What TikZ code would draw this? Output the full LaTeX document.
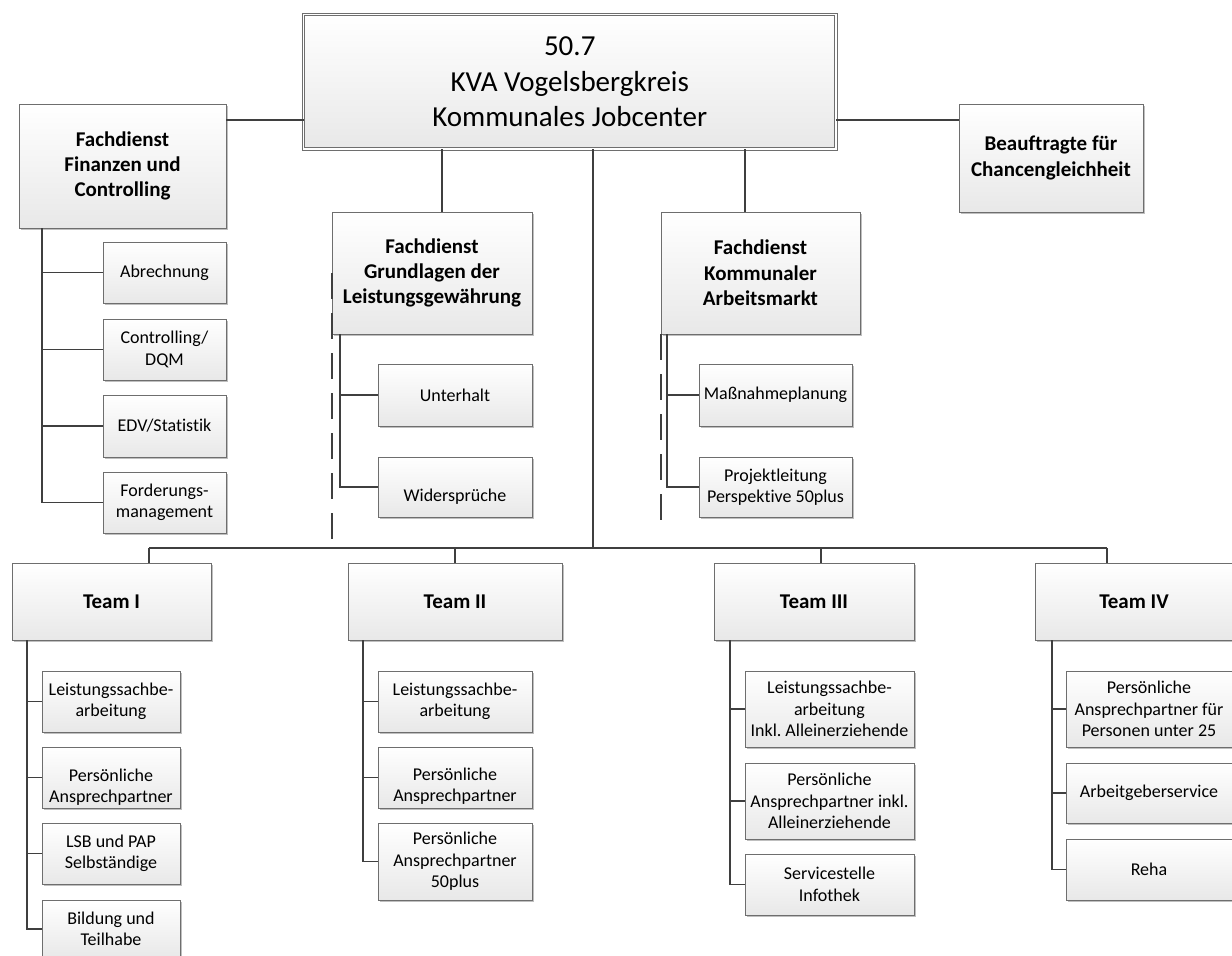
\documentclass[tikz,border=0pt]{standalone}
\usepackage{fontspec}
\setmainfont{Carlito}[Ligatures=NoCommon]
\usetikzlibrary{shadows}
\definecolor{linegray}{HTML}{3F3F3F}
\definecolor{boxgray}{HTML}{6E6E6E}
\newcommand\subf{\fontsize{18}{21.5}\selectfont}
\newcommand\hdf{\fontsize{21}{25.3}\selectfont\bfseries}
\newcommand\topf{\fontsize{29}{35.5}\selectfont}
\newcommand\lowr[2]{\raisebox{-#1}[\height][\depth]{\begin{tabular}{@{}c@{}}#2\end{tabular}}}
\frenchspacing
\tikzset{
  bx/.style={draw=boxgray, line width=0.9pt, top color=white, bottom color=black!9,
    drop shadow={shadow xshift=2pt, shadow yshift=-2pt, opacity=0.25, fill=black},
    anchor=north west, inner sep=0pt, outer sep=0pt, align=center, font=\subf},
  hd/.style={bx, font=\hdf},
  topbox/.style={bx, font=\topf, double=white, double distance=1.8pt, line width=0.8pt},
  conn/.style={draw=linegray, line width=1.4pt},
  dashln/.style={draw=linegray, line width=1.3pt, dash pattern=on 26pt off 14pt}
}
\begin{document}
\begin{tikzpicture}[x=1pt, y=-1pt]
\useasboundingbox (0,0) rectangle (1232,956);
% top level
\node[topbox, minimum width=532.5pt, minimum height=134.5pt] (top) at (303.5,14.5) {50.7\\KVA Vogelsbergkreis\\Kommunales Jobcenter};
\node[hd, minimum width=207pt, minimum height=124pt] (fin) at (19,104) {Fachdienst\\Finanzen und\\Controlling};
\node[hd, minimum width=184pt, minimum height=108pt] (beauf) at (959,104) {Beauftragte für\\Chancengleichheit};
\node[hd, minimum width=200pt, minimum height=122pt] (grund) at (332,212) {Fachdienst\\Grundlagen der\\Leistungsgewährung};
\node[hd, minimum width=199pt, minimum height=122pt] (komm) at (661,212) {Fachdienst\\Kommunaler\\Arbeitsmarkt};
% Finanzen children
\node[bx, minimum width=123pt, minimum height=61pt] (ab) at (103,242) {Abrechnung};
\node[bx, minimum width=123pt, minimum height=61pt] (ctrl) at (103,319) {Controlling/\\DQM};
\node[bx, minimum width=123pt, minimum height=62pt] (edv) at (103,395) {EDV/Statistik};
\node[bx, minimum width=123pt, minimum height=61pt] (ford) at (103,472) {Forderungs-\\management};
% Grundlagen children
\node[bx, minimum width=154pt, minimum height=62pt] (unt) at (378,364) {Unterhalt};
\node[bx, minimum width=154pt, minimum height=60pt] (wid) at (378,457) {\lowr{10pt}{Widersprüche}};
% Kommunaler children
\node[bx, minimum width=153pt, minimum height=62pt] (mass) at (699,364) {Maßnahmeplanung};
\node[bx, minimum width=153pt, minimum height=60pt] (proj) at (699,457) {Projektleitung\\Perspektive 50plus};
% Teams
\node[hd, minimum width=199pt, minimum height=77pt] (t1) at (12,563) {Team I};
\node[hd, minimum width=214pt, minimum height=77pt] (t2) at (348,563) {Team II};
\node[hd, minimum width=200pt, minimum height=77pt] (t3) at (714,563) {Team III};
\node[hd, minimum width=198pt, minimum height=77pt] (t4) at (1035,563) {Team IV};
% Team I children
\node[bx, minimum width=138pt, minimum height=61pt] (t1a) at (42,671) {Leistungssachbe-\\arbeitung};
\node[bx, minimum width=138pt, minimum height=61pt] (t1b) at (42,747) {\lowr{10pt}{Persönliche\\Ansprechpartner}};
\node[bx, minimum width=138pt, minimum height=61pt] (t1c) at (42,823) {LSB und PAP\\Selbständige};
\node[bx, minimum width=138pt, minimum height=58pt] (t1d) at (42,900) {Bildung und\\Teilhabe};
% Team II children
\node[bx, minimum width=154pt, minimum height=61pt] (t2a) at (378,671) {Leistungssachbe-\\arbeitung};
\node[bx, minimum width=154pt, minimum height=61pt] (t2b) at (378,747) {\lowr{9pt}{Persönliche\\Ansprechpartner}};
\node[bx, minimum width=154pt, minimum height=77pt] (t2c) at (378,823) {Persönliche\\Ansprechpartner\\50plus};
% Team III children
\node[bx, minimum width=169pt, minimum height=76pt] (t3a) at (745,671) {Leistungssachbe-\\arbeitung\\Inkl. Alleinerziehende};
\node[bx, minimum width=169pt, minimum height=76pt] (t3b) at (745,763) {Persönliche\\Ansprechpartner inkl.\\Alleinerziehende};
\node[bx, minimum width=169pt, minimum height=61pt] (t3c) at (745,854) {Servicestelle\\Infothek};
% Team IV children
\node[bx, minimum width=166pt, minimum height=76pt] (t4a) at (1066,671) {Persönliche\\Ansprechpartner für\\Personen unter 25};
\node[bx, minimum width=166pt, minimum height=60pt] (t4b) at (1066,763) {Arbeitgeberservice};
\node[bx, minimum width=166pt, minimum height=61pt] (t4c) at (1066,839) {Reha};
% connectors from the top box
\draw[conn] (fin.north east |- 0,120) -- (top.west |- 0,120);
\draw[conn] (top.east |- 0,120) -- (beauf.west |- 0,120);
\draw[conn] (top.south -| 442,0) -- (grund.north -| 442,0);
\draw[conn] (top.south -| 745,0) -- (komm.north -| 745,0);
\coordinate (bus) at (593,548);
\coordinate (busL) at (149,548);
\coordinate (busR) at (1107,548);
\draw[conn] (top.south -| bus) -- (bus);
\draw[conn] (busL) -- (busR);
\draw[conn] (busL) -- (t1.north -| busL);
\draw[conn] (t2.north |- bus) -- (t2.north);
\draw[conn] (821,548) -- (t3.north -| 821,0);
\draw[conn] (busR) -- (t4.north -| busR);
% dashed lines
\draw[dashln] ([yshift=61pt]grund.south west) -- (grund.south west |- bus);
\draw[dashln] (komm.south west) -- (komm.south west |- 0,533);
% Finanzen spine
\draw[conn] (fin.south -| 42,0) |- (ford.west);
\draw[conn] (42,0 |- ab.west) -- (ab.west);
\draw[conn] (42,0 |- ctrl.west) -- (ctrl.west);
\draw[conn] (42,0 |- edv.west) -- (edv.west);
% Grundlagen spine
\draw[conn] (grund.south -| 340,0) |- (wid.west);
\draw[conn] (340,0 |- unt.west) -- (unt.west);
% Kommunaler spine
\draw[conn] (komm.south -| 667,0) |- (proj.west);
\draw[conn] (667,0 |- mass.west) -- (mass.west);
% Team I spine
\draw[conn] (t1.south -| 27,0) |- (t1d.west);
\draw[conn] (27,0 |- t1a.west) -- (t1a.west);
\draw[conn] (27,0 |- t1b.west) -- (t1b.west);
\draw[conn] (27,0 |- t1c.west) -- (t1c.west);
% Team II spine
\draw[conn] (t2.south -| 363,0) |- (t2c.west);
\draw[conn] (363,0 |- t2a.west) -- (t2a.west);
\draw[conn] (363,0 |- t2b.west) -- (t2b.west);
% Team III spine
\draw[conn] (t3.south -| 730,0) |- (t3c.west);
\draw[conn] (730,0 |- t3a.west) -- (t3a.west);
\draw[conn] (730,0 |- t3b.west) -- (t3b.west);
% Team IV spine
\draw[conn] (t4.south -| 1052,0) |- (t4c.west);
\draw[conn] (1052,0 |- t4a.west) -- (t4a.west);
\draw[conn] (1052,0 |- t4b.west) -- (t4b.west);
\end{tikzpicture}
\end{document}
